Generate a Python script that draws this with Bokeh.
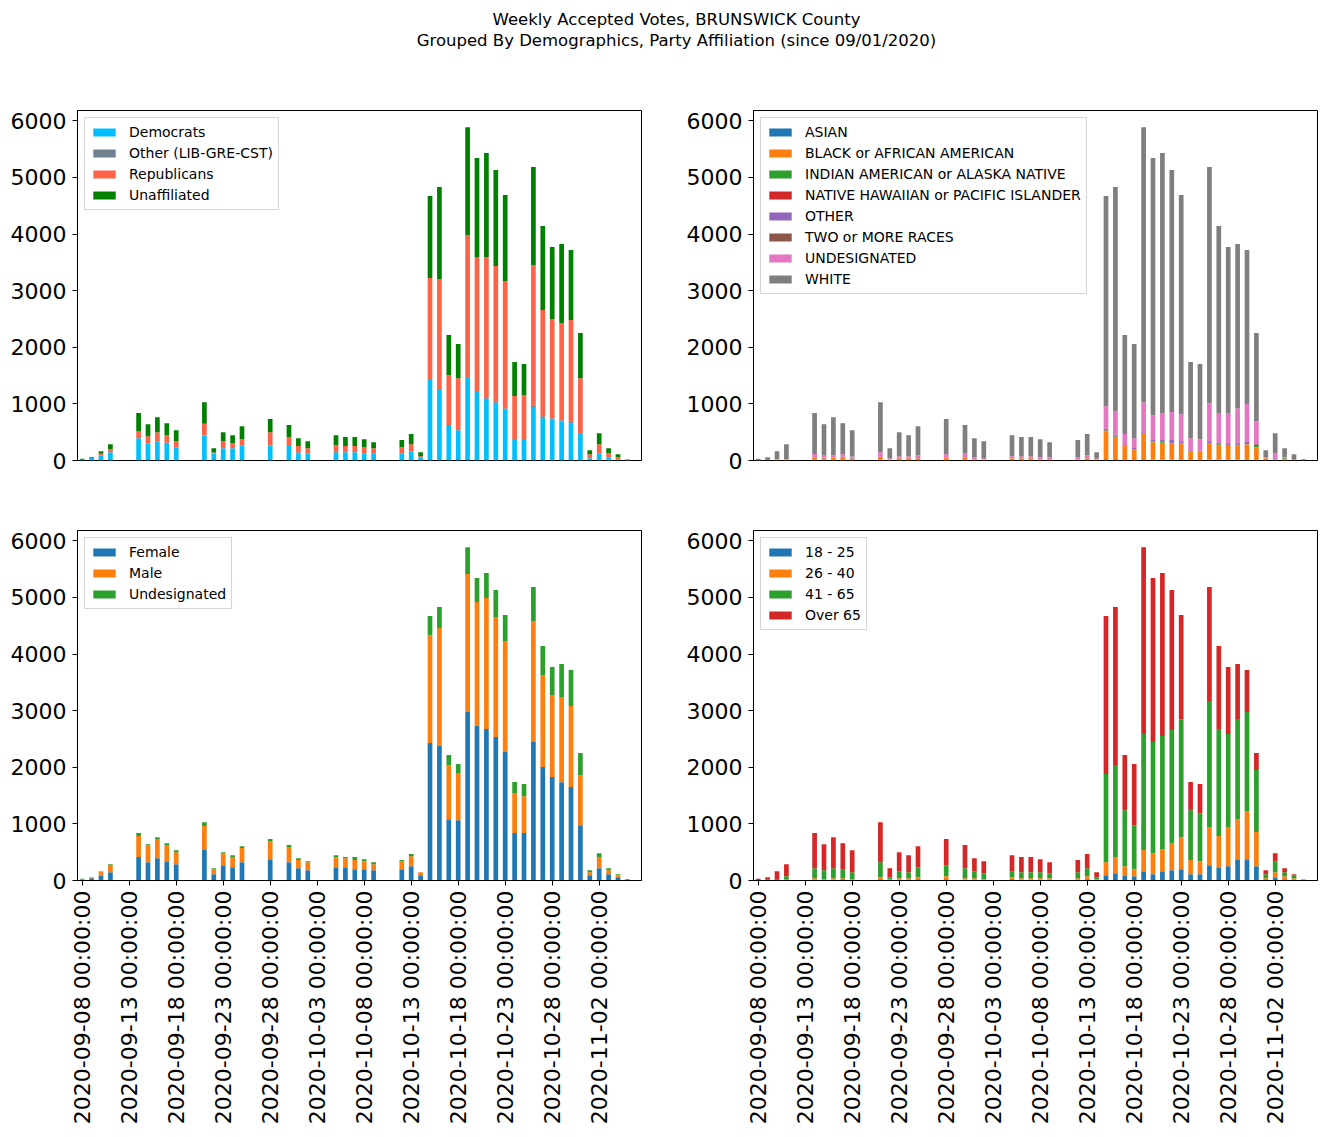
import math
import pandas as pd
from bokeh.plotting import figure
from bokeh.models import ColumnDataSource, Range1d, FixedTicker
from bokeh.layouts import column, row
from bokeh.embed import file_html
from bokeh.resources import INLINE
from bokeh.core.properties import value

# ---------------- data ----------------
dates = pd.date_range("2020-09-08", periods=60, freq="D")
date_labels = [d.strftime("%Y-%m-%d %H:%M:%S") for d in dates]

title_lines = ["Weekly Accepted Votes, BRUNSWICK County",
               "Grouped By Demographics, Party Affiliation (since 09/01/2020)"]

# Party affiliation
party_labels = ["Democrats", "Other (LIB-GRE-CST)", "Republicans", "Unaffiliated"]
dem = [10, 45, 88, 147, 0, 0, 395, 306, 342, 310,
       236, 0, 0, 442, 118, 218, 218, 259, 0, 0,
       265, 0, 254, 130, 118, 0, 0, 147, 147, 147,
       130, 130, 0, 0, 130, 165, 59, 1438, 1261, 610,
       536, 1460, 1208, 1090, 1013, 907, 360, 360, 943, 748,
       730, 695, 660, 466, 41, 130, 59, 23, 3, 0]
oth = [0, 0, 0, 0, 0, 0, 0, 0, 0, 10,
       0, 0, 0, 0, 5, 0, 0, 0, 0, 0,
       0, 0, 0, 17, 0, 0, 0, 0, 0, 0,
       0, 0, 0, 0, 0, 0, 0, 0, 0, 15,
       0, 15, 0, 15, 30, 18, 0, 0, 35, 35,
       18, 17, 35, 0, 0, 0, 0, 5, 0, 0]
rep = [5, 0, 30, 53, 0, 0, 118, 124, 159, 128,
       106, 0, 0, 207, 20, 124, 88, 118, 0, 0,
       236, 0, 159, 107, 100, 0, 0, 124, 107, 107,
       106, 88, 0, 0, 106, 124, 18, 1786, 1945, 883,
       919, 2509, 2387, 2490, 2393, 2246, 778, 796, 2476, 1875,
       1751, 1716, 1786, 989, 70, 159, 71, 31, 17, 0]
una = [15, 13, 47, 89, 0, 0, 324, 212, 265, 212,
       194, 0, 0, 382, 75, 159, 142, 230, 0, 0,
       230, 0, 212, 141, 124, 0, 0, 177, 159, 159,
       141, 106, 0, 0, 124, 177, 70, 1450, 1627, 708,
       602, 1905, 1751, 1839, 1698, 1521, 601, 547, 1733, 1485,
       1273, 1397, 1238, 796, 71, 194, 88, 52, 3, 0]

# Race
race_labels = ["ASIAN", "BLACK or AFRICAN AMERICAN", "INDIAN AMERICAN or ALASKA NATIVE",
               "NATIVE HAWAIIAN or PACIFIC ISLANDER", "OTHER", "TWO or MORE RACES",
               "UNDESIGNATED", "WHITE"]
asian = [0, 0, 0, 0, 0, 0, 5, 5, 0, 0,
         0, 0, 0, 0, 0, 0, 0, 0, 0, 0,
         0, 0, 0, 0, 0, 0, 0, 5, 0, 0,
         0, 0, 0, 0, 4, 6, 0, 20, 20, 5,
         5, 20, 15, 15, 15, 10, 5, 0, 15, 15,
         15, 15, 10, 5, 5, 4, 0, 0, 0, 0]
black = [2, 3, 15, 15, 0, 0, 45, 35, 50, 50,
         35, 0, 0, 55, 18, 41, 41, 41, 0, 0,
         59, 0, 59, 24, 18, 0, 0, 36, 41, 41,
         24, 24, 0, 0, 20, 35, 20, 498, 393, 249,
         195, 446, 309, 300, 291, 296, 155, 160, 291, 256,
         239, 256, 279, 231, 36, 20, 20, 6, 3, 0]
indian = [0, 0, 0, 0, 0, 0, 0, 0, 0, 0,
          0, 0, 0, 0, 0, 0, 0, 0, 0, 0,
          0, 0, 0, 0, 0, 0, 0, 0, 0, 0,
          0, 0, 0, 0, 0, 0, 0, 12, 12, 5,
          0, 5, 10, 15, 0, 0, 10, 0, 0, 15,
          15, 0, 0, 18, 0, 0, 21, 0, 0, 0]
nhpi = [0, 0, 0, 0, 0, 0, 0, 0, 0, 0,
        0, 0, 0, 0, 0, 0, 0, 0, 0, 0,
        0, 0, 0, 0, 0, 0, 0, 0, 0, 0,
        0, 0, 0, 0, 0, 0, 0, 3, 3, 0,
        0, 0, 0, 0, 0, 0, 0, 0, 0, 0,
        0, 0, 0, 0, 0, 0, 0, 0, 0, 0]
other_race = [0, 0, 0, 0, 0, 0, 5, 10, 0, 15,
              15, 0, 0, 0, 0, 0, 0, 15, 0, 0,
              0, 0, 0, 0, 0, 0, 0, 0, 0, 0,
              0, 0, 0, 0, 0, 0, 0, 27, 15, 15,
              36, 30, 43, 30, 54, 36, 13, 18, 20, 0,
              17, 15, 53, 0, 0, 17, 0, 0, 0, 0]
two_more = [0, 0, 0, 0, 0, 0, 3, 0, 0, 0,
            0, 0, 0, 10, 0, 0, 0, 0, 0, 0,
            0, 0, 0, 0, 0, 0, 0, 0, 0, 0,
            0, 0, 0, 0, 0, 0, 0, 0, 10, 0,
            0, 0, 0, 0, 0, 0, 0, 0, 15, 20,
            20, 20, 0, 35, 0, 0, 0, 12, 0, 0]
undes_race = [0, 0, 5, 5, 0, 0, 55, 45, 41, 45,
              20, 0, 0, 80, 23, 36, 36, 36, 0, 0,
              52, 0, 71, 35, 23, 0, 0, 36, 36, 36,
              35, 35, 0, 0, 35, 53, 17, 400, 414, 192,
              159, 530, 424, 477, 495, 477, 212, 194, 672, 531,
              531, 619, 654, 406, 18, 89, 18, 0, 0, 0]
white = [28, 55, 145, 269, 0, 0, 724, 547, 675, 550,
         466, 0, 0, 886, 177, 424, 371, 515, 0, 0,
         620, 0, 495, 336, 301, 0, 0, 371, 336, 336,
         318, 265, 0, 0, 301, 372, 110, 3714, 3966, 1750,
         1662, 4858, 4545, 4597, 4279, 3873, 1344, 1331, 4174, 3306,
         2935, 2900, 2723, 1556, 123, 353, 159, 93, 20, 0]

# Gender
gender_labels = ["Female", "Male", "Undesignated"]
female = [5, 41, 88, 147, 0, 0, 413, 324, 395, 342,
          289, 0, 0, 537, 111, 271, 236, 324, 0, 0,
          377, 0, 324, 218, 182, 0, 0, 236, 236, 200,
          200, 182, 0, 0, 200, 253, 94, 2428, 2375, 1084,
          1066, 2976, 2728, 2675, 2534, 2269, 837, 837, 2446, 2003,
          1827, 1737, 1650, 978, 94, 218, 111, 59, 20, 0]
male = [20, 15, 77, 118, 0, 0, 371, 301, 336, 283,
        212, 0, 0, 424, 89, 212, 177, 248, 0, 0,
        319, 0, 266, 142, 142, 0, 0, 177, 159, 160,
        142, 107, 0, 0, 142, 177, 53, 1904, 2087, 955,
        831, 2440, 2193, 2317, 2122, 1961, 708, 652, 2139, 1627,
        1450, 1505, 1432, 883, 53, 195, 71, 35, 3, 0]
undes_gender = [5, 2, 0, 24, 0, 0, 53, 17, 35, 35,
                35, 0, 0, 70, 18, 18, 35, 35, 0, 0,
                35, 0, 35, 35, 18, 0, 0, 35, 18, 53,
                35, 35, 0, 0, 18, 36, 0, 342, 371, 177,
                160, 473, 425, 442, 478, 462, 194, 214, 602, 513,
                495, 583, 637, 390, 35, 70, 36, 17, 0, 0]

# Age
age_labels = ["18 - 25", "26 - 40", "41 - 65", "Over 65"]
age_18_25 = [0, 0, 0, 5, 0, 0, 18, 10, 15, 20,
             15, 0, 0, 20, 10, 15, 15, 20, 0, 0,
             20, 0, 15, 15, 10, 0, 0, 20, 15, 15,
             15, 15, 0, 0, 15, 24, 10, 94, 130, 94,
             77, 165, 111, 165, 182, 200, 111, 111, 271, 236,
             253, 360, 377, 253, 24, 59, 24, 18, 0, 0]
age_26_40 = [0, 0, 5, 12, 0, 0, 23, 14, 26, 21,
             9, 0, 0, 39, 14, 26, 26, 39, 0, 0,
             57, 0, 26, 26, 14, 0, 0, 39, 26, 26,
             26, 26, 0, 0, 26, 53, 10, 230, 283, 159,
             123, 372, 372, 389, 478, 566, 249, 231, 672, 548,
             690, 724, 849, 602, 17, 88, 53, 23, 20, 0]
age_41_65 = [5, 15, 20, 60, 0, 0, 177, 158, 177, 159,
             123, 0, 0, 265, 35, 124, 106, 177, 0, 0,
             194, 0, 177, 124, 106, 0, 0, 106, 106, 106,
             106, 89, 0, 0, 106, 141, 39, 1556, 1626, 990,
             778, 2050, 1963, 1998, 1998, 2081, 883, 848, 2228, 1892,
             1644, 1769, 1750, 1096, 70, 195, 70, 53, 3, 0]
age_over_65 = [25, 43, 140, 212, 0, 0, 619, 460, 548, 460,
               389, 0, 0, 707, 159, 336, 301, 371, 0, 0,
               460, 0, 407, 230, 212, 0, 0, 283, 266, 266,
               230, 194, 0, 0, 213, 248, 88, 2794, 2794, 973,
               1079, 3302, 2900, 2882, 2476, 1845, 496, 513, 2016, 1467,
               1185, 972, 743, 300, 71, 141, 71, 17, 0, 0]

party_colors = ["#00bfff", "#708090", "#ff6347", "#008000"]
tab10 = ["#1f77b4", "#ff7f0e", "#2ca02c", "#d62728", "#9467bd",
         "#8c564b", "#e377c2", "#7f7f7f"]

FONT = "DejaVu Sans"
positions = list(range(len(dates)))


def make_panel(series, labels, colors, width, height, mb_left, mb_right,
               mb_top, mb_bottom, show_x):
    data = {"x": positions}
    keys = []
    for i, s in enumerate(series):
        k = "s%d" % i
        data[k] = s
        keys.append(k)
    src = ColumnDataSource(data)
    totals = [sum(v) for v in zip(*series)]
    p = figure(width=width, height=height, toolbar_location=None,
               output_backend="svg",
               x_range=Range1d(-0.5, len(dates) - 0.5),
               y_range=Range1d(0, max(totals) * 1.05),
               min_border_left=mb_left, min_border_right=mb_right,
               min_border_top=mb_top, min_border_bottom=mb_bottom)
    p.vbar_stack(keys, x="x", width=0.5, color=colors, line_color=None,
                 source=src, legend_label=labels)
    p.xgrid.visible = False
    p.ygrid.visible = False
    p.outline_line_color = "black"
    p.outline_line_width = 1
    p.outline_line_alpha = 1

    ya = p.yaxis[0]
    ya.ticker = FixedTicker(ticks=[0, 1000, 2000, 3000, 4000, 5000, 6000])
    ya.major_label_text_font = FONT
    ya.major_label_text_font_size = "22px"
    ya.major_label_text_color = "black"
    ya.major_tick_out = 5
    ya.major_tick_in = 0
    ya.minor_tick_out = 0
    ya.minor_tick_in = 0
    ya.major_label_standoff = 6
    ya.axis_line_color = "black"
    ya.major_tick_line_color = "black"

    xa = p.xaxis[0]
    if show_x:
        tick_pos = positions[::5]
        xa.ticker = FixedTicker(ticks=tick_pos)
        xa.major_label_overrides = {i: date_labels[i] for i in tick_pos}
        xa.major_label_orientation = math.pi / 2
        xa.major_label_text_font = FONT
        xa.major_label_text_font_size = "22px"
        xa.major_label_text_color = "black"
        xa.major_tick_out = 5
        xa.major_tick_in = 0
        xa.minor_tick_out = 0
        xa.minor_tick_in = 0
        xa.major_label_standoff = 5
        xa.axis_line_color = "black"
        xa.major_tick_line_color = "black"
    else:
        xa.visible = False

    lg = p.legend[0]
    lg.location = "top_left"
    lg.margin = 7
    lg.padding = 5
    lg.spacing = 3
    lg.label_height = 18
    lg.glyph_height = 10
    lg.glyph_width = 28
    lg.label_standoff = 11
    lg.label_text_font = FONT
    lg.label_text_font_size = "14px"
    lg.label_text_color = "black"
    lg.border_line_color = "#cccccc"
    lg.border_line_alpha = 0.8
    lg.background_fill_color = "white"
    lg.background_fill_alpha = 0.8
    return p


# ---------------- title ----------------
tp = figure(width=1318, height=58, toolbar_location=None, output_backend="svg",
            x_range=Range1d(0, 1318), y_range=Range1d(58, 0), min_border=0)
tp.axis.visible = False
tp.grid.visible = False
tp.outline_line_color = None
tp.text(x=[676, 676], y=[19, 40], text=title_lines, text_align="center",
        text_baseline="middle", text_font=value(FONT), text_font_size="16.5px",
        text_color="black")

LW, RW = 681, 637
TH, BH = 437, 634

p1 = make_panel([dem, oth, rep, una], party_labels, party_colors,
                LW, TH, 77, 40, 52, 35, False)
p2 = make_panel([asian, black, indian, nhpi, other_race, two_more, undes_race, white],
                race_labels, tab10, RW, TH, 72, 1, 52, 35, False)
p3 = make_panel([female, male, undes_gender], gender_labels, tab10[:3],
                LW, BH, 77, 40, 35, 249, True)
p4 = make_panel([age_18_25, age_26_40, age_41_65, age_over_65], age_labels, tab10[:4],
                RW, BH, 72, 1, 35, 249, True)

layout = column(tp, row(p1, p2), row(p3, p4))

open("out.html", "w").write(file_html(layout, INLINE))
